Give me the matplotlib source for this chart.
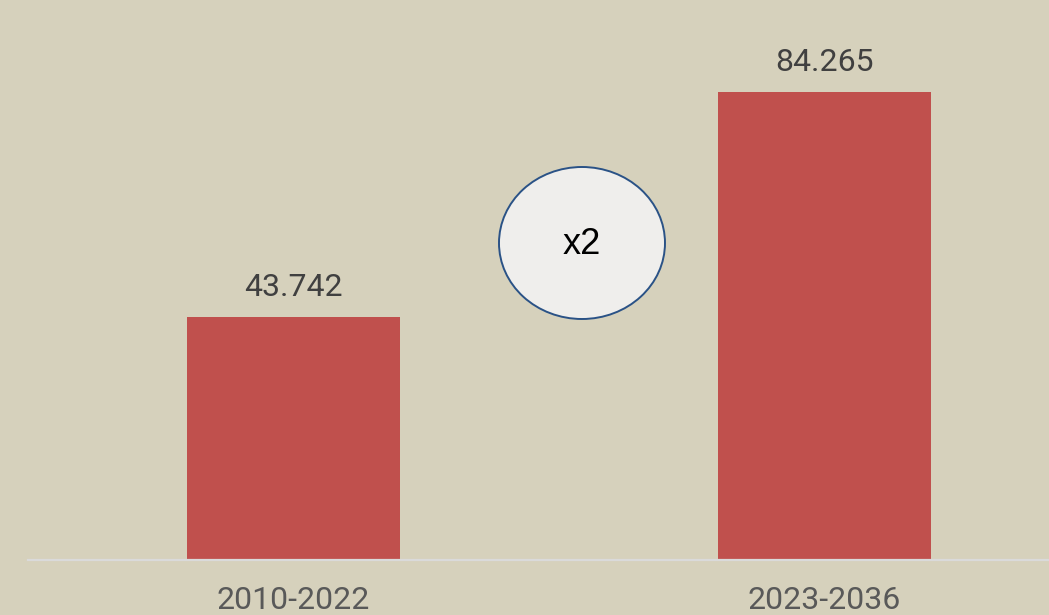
import matplotlib.pyplot as plt
from matplotlib.patches import Ellipse

categories = ["2010-2022", "2023-2036"]
values = [43.742, 84.265]
value_labels = ["43.742", "84.265"]
ratio_label = "x2"

bg = "#D6D1BC"
bar_color = "#C0504D"

fig = plt.figure(figsize=(10.49, 6.15), dpi=100)
fig.patch.set_facecolor(bg)

W, H = 1049, 615
ax = fig.add_axes([28 / W, 55 / H, 1062 / W, 560 / H])
ax.set_facecolor(bg)

x = range(len(categories))
bars = ax.bar(x, values, width=0.4, color=bar_color, zorder=2)

ax.set_xlim(-0.5, 1.5)
ax.set_ylim(0, 100.8)

for b, lab in zip(bars, value_labels):
    ax.annotate(lab, (b.get_x() + b.get_width() / 2, b.get_height()),
                xytext=(0, 11), textcoords="offset points",
                ha="center", va="bottom", fontsize=23,
                color="#404040", family="Roboto")

ax.set_xticks(list(x))
ax.set_xticklabels(categories, fontsize=23, color="#595959", family="Roboto")
ax.tick_params(axis="x", length=0, pad=19)
ax.set_yticks([])

for s in ["top", "right", "left"]:
    ax.spines[s].set_visible(False)
ax.spines["bottom"].set_color("#DADADA")
ax.spines["bottom"].set_linewidth(1.6)
ax.spines["bottom"].set_zorder(3)

# ellipse between the bars
ell = Ellipse((0.5433, 57.06), 0.3126, 27.36, facecolor="#EFEEEC",
              edgecolor="#2A5286", linewidth=1.4, zorder=3)
ax.add_patch(ell)
ax.text(0.5433, 56.8, ratio_label, ha="center", va="center",
        fontsize=26, color="black", family="Liberation Sans", zorder=4)

fig.savefig("out.png", dpi=100, facecolor=bg)
